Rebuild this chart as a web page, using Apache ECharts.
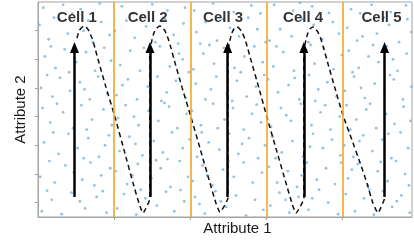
<!DOCTYPE html>
<html>
<head>
<meta charset="utf-8">
<script src="https://cdn.jsdelivr.net/npm/echarts@6/dist/echarts.min.js"></script>
<style>
  html, body { margin: 0; padding: 0; background: #fff; }
  #chart { width: 414px; height: 241px; }
</style>
</head>
<body>
<div id="chart"></div>
<script>
// cell boundaries (orange lines) on Attribute 1
const cellBounds = [1, 2, 3, 4];
const cellNames = ['Cell 1', 'Cell 2', 'Cell 3', 'Cell 4', 'Cell 5'];
const cellLabelX = [0.51, 1.44, 2.43, 3.48, 4.51];
const cellLabelY = 6.44;

// upward arrows: x position, start and end on Attribute 2
const arrowX = [0.479, 1.47, 2.49, 3.49, 4.55];
const arrowFrom = 0.2;
const arrowTo = 5.41;

// dashed trajectory
const curvePts = [
  [0.512, 5.74], [0.538, 5.99], [0.564, 6.08], [0.604, 6.16], [0.630, 6.13], [0.669, 5.99],
  [0.709, 5.74], [0.748, 5.40], [0.787, 5.01], [0.892, 4.03], [1.010, 2.99], [1.129, 1.84],
  [1.247, 0.69], [1.325, -0.01], [1.378, -0.36], [1.470, 0.16],
  [1.470, 5.26], [1.496, 5.67], [1.522, 5.92], [1.555, 6.08], [1.601, 6.16], [1.627, 6.13],
  [1.667, 5.99], [1.706, 5.74], [1.745, 5.40], [1.785, 5.01], [1.890, 4.03], [2.008, 2.99],
  [2.133, 1.84], [2.257, 0.69], [2.336, -0.01], [2.388, -0.33], [2.493, 0.16],
  [2.493, 5.26], [2.520, 5.67], [2.546, 5.92], [2.572, 6.06], [2.612, 6.13], [2.638, 6.09],
  [2.677, 5.95], [2.717, 5.71], [2.756, 5.36], [2.795, 4.98], [2.900, 4.00], [3.005, 2.99],
  [3.130, 1.84], [3.255, 0.69], [3.333, -0.01], [3.386, -0.36], [3.491, 0.16],
  [3.491, 5.26], [3.517, 5.67], [3.543, 5.92], [3.570, 6.06], [3.609, 6.13], [3.635, 6.09],
  [3.675, 5.95], [3.714, 5.71], [3.753, 5.36], [3.793, 4.98], [3.898, 4.00], [4.003, 3.06],
  [4.121, 2.19], [4.226, 1.41], [4.318, 0.69], [4.396, -0.01], [4.462, -0.36], [4.554, 0.16]
];

// background samples
const samples = [
  [0.05,-0.3],[0.18,0.1],[0.31,-0.4],[0.44,0.35],[0.62,-0.2],[0.77,0.2],[0.9,-0.35],[0.12,0.42],[0.55,0.05],[0.85,0.4],
  [0.03,0.9],[0.22,0.7],[0.36,1.3],[0.58,0.8],[0.69,1.4],[0.83,0.95],[0.95,1.2],[0.15,1.45],[0.47,1.05],[0.74,0.6],
  [0.08,2.1],[0.27,1.7],[0.4,2.4],[0.52,1.9],[0.66,2.25],[0.8,1.6],[0.93,2.35],[0.2,2.45],[0.6,1.55],[0.88,2.0],
  [0.06,3.3],[0.16,2.8],[0.33,3.15],[0.46,2.6],[0.57,3.4],[0.71,2.9],[0.86,3.25],[0.97,2.7],[0.25,3.45],[0.64,2.55],
  [0.04,4.0],[0.19,3.7],[0.29,4.35],[0.42,3.9],[0.55,4.2],[0.68,3.6],[0.79,4.4],[0.91,3.8],[0.12,4.45],[0.61,3.95],
  [0.09,5.1],[0.23,4.7],[0.35,5.35],[0.5,4.9],[0.63,5.25],[0.75,4.6],[0.87,5.4],[0.96,4.95],[0.17,5.45],[0.41,4.55],
  [0.02,6.2],[0.14,5.7],[0.28,6.4],[0.39,5.9],[0.6,6.0],[0.72,5.6],[0.83,6.3],[0.94,5.85],[0.21,6.45],[0.66,6.35],
  [0.07,6.8],[0.33,6.9],[0.56,6.75],[0.81,6.95],[0.45,6.6],
  [1.04,-0.2],[1.13,0.3],[1.29,-0.42],[1.41,0.15],[1.56,-0.1],[1.68,0.38],[1.79,-0.3],[1.92,0.05],[1.35,0.45],[1.87,0.44],
  [1.02,1.1],[1.17,0.65],[1.31,1.35],[1.49,0.85],[1.61,1.2],[1.74,0.55],[1.86,1.45],[1.97,0.9],[1.24,0.95],[1.55,1.48],
  [1.07,1.8],[1.2,2.3],[1.37,1.65],[1.52,2.15],[1.64,1.75],[1.76,2.45],[1.9,1.9],[1.99,2.2],[1.28,2.05],[1.7,1.52],
  [1.05,2.95],[1.15,3.4],[1.32,2.7],[1.45,3.2],[1.58,2.85],[1.72,3.35],[1.83,2.6],[1.95,3.1],[1.26,3.0],[1.66,3.48],
  [1.03,3.75],[1.18,4.3],[1.3,3.6],[1.44,4.05],[1.57,4.4],[1.69,3.85],[1.81,4.25],[1.94,3.65],[1.11,4.1],[1.62,3.55],
  [1.08,4.8],[1.21,5.3],[1.34,4.6],[1.47,5.05],[1.6,5.45],[1.73,4.75],[1.85,5.2],[1.98,4.55],[1.39,5.4],[1.9,5.0],
  [1.01,6.0],[1.16,6.35],[1.27,5.75],[1.42,6.15],[1.54,5.6],[1.67,6.4],[1.78,5.85],[1.91,6.25],[1.36,6.5],[1.84,5.55],
  [1.1,6.85],[1.25,6.6],[1.5,6.92],[1.7,6.7],[1.93,6.8],
  [2.06,0.2],[2.19,-0.38],[2.33,0.4],[2.47,-0.15],[2.6,0.25],[2.73,-0.45],[2.85,0.1],[2.96,-0.25],[2.4,0.05],[2.12,-0.05],
  [2.03,0.75],[2.16,1.3],[2.29,0.6],[2.43,1.15],[2.57,0.9],[2.7,1.4],[2.82,0.7],[2.94,1.05],[2.5,1.45],[2.22,0.95],
  [2.09,1.6],[2.24,2.1],[2.38,1.85],[2.51,2.4],[2.63,1.7],[2.77,2.25],[2.89,1.55],[2.98,2.0],[2.15,2.45],[2.68,2.05],
  [2.02,3.2],[2.14,2.7],[2.3,3.45],[2.45,2.9],[2.56,3.3],[2.7,2.55],[2.81,3.1],[2.93,2.8],[2.36,2.6],[2.87,3.42],
  [2.07,4.15],[2.2,3.6],[2.34,4.4],[2.48,3.8],[2.61,4.25],[2.74,3.7],[2.86,4.05],[2.97,4.45],[2.27,3.95],[2.55,3.55],
  [2.04,4.65],[2.17,5.2],[2.31,4.85],[2.44,5.4],[2.58,4.7],[2.71,5.1],[2.84,5.45],[2.95,4.9],[2.25,5.5],[2.66,4.55],
  [2.08,5.95],[2.2,6.3],[2.35,5.65],[2.52,6.1],[2.64,5.8],[2.76,6.45],[2.88,6.05],[2.99,5.6],[2.43,6.4],[2.13,5.55],
  [2.05,6.7],[2.3,6.95],[2.57,6.65],[2.8,6.88],[2.92,6.6],
  [3.05,-0.1],[3.17,0.35],[3.3,-0.35],[3.42,0.2],[3.55,-0.25],[3.69,0.45],[3.81,0.0],[3.94,-0.4],[3.6,0.15],[3.25,0.1],
  [3.03,1.25],[3.14,0.7],[3.28,1.1],[3.4,0.55],[3.53,1.4],[3.66,0.8],[3.78,1.2],[3.9,0.65],[3.46,0.95],[3.98,1.4],
  [3.08,2.3],[3.2,1.75],[3.34,2.15],[3.48,1.6],[3.61,2.4],[3.74,1.9],[3.86,2.2],[3.97,1.65],[3.12,1.55],[3.57,1.95],
  [3.06,2.65],[3.19,3.3],[3.32,2.85],[3.45,3.45],[3.59,2.7],[3.71,3.15],[3.84,2.55],[3.96,3.0],[3.26,3.05],[3.77,3.4],
  [3.02,4.3],[3.15,3.85],[3.29,4.1],[3.43,3.6],[3.56,4.45],[3.68,3.95],[3.8,4.2],[3.92,3.7],[3.37,4.35],[3.64,3.55],
  [3.09,4.75],[3.22,5.25],[3.36,4.6],[3.5,5.05],[3.63,4.85],[3.75,5.4],[3.88,4.65],[3.99,5.15],[3.13,5.45],[3.58,5.5],
  [3.04,5.65],[3.18,6.05],[3.33,5.8],[3.47,6.4],[3.62,6.2],[3.73,5.7],[3.87,6.3],[3.95,5.9],[3.24,6.45],[3.55,5.6],
  [3.1,6.9],[3.35,6.7],[3.6,6.85],[3.82,6.62],[3.44,6.97],
  [4.04,0.3],[4.16,-0.3],[4.28,0.15],[4.41,-0.42],[4.53,0.4],[4.65,-0.15],[4.77,0.25],[4.88,-0.35],[4.35,0.45],[4.71,0.05],
  [4.07,0.85],[4.2,1.35],[4.33,0.6],[4.46,1.1],[4.59,0.75],[4.7,1.45],[4.82,1.0],[4.12,1.15],[4.5,1.42],[4.87,0.6],
  [4.02,2.0],[4.14,1.6],[4.27,2.35],[4.39,1.8],[4.52,2.2],[4.64,1.55],[4.76,2.45],[4.86,1.9],[4.22,2.15],[4.6,2.4],
  [4.05,3.4],[4.18,2.9],[4.31,3.25],[4.44,2.6],[4.57,3.1],[4.68,2.75],[4.8,3.35],[4.89,2.85],[4.36,3.45],[4.1,2.55],
  [4.03,3.9],[4.15,4.4],[4.29,3.65],[4.42,4.15],[4.55,3.8],[4.67,4.3],[4.79,3.6],[4.9,4.05],[4.24,4.0],[4.62,4.45],
  [4.08,5.3],[4.21,4.7],[4.34,5.1],[4.47,4.9],[4.58,5.45],[4.72,4.6],[4.84,5.2],[4.13,4.55],[4.4,5.5],[4.66,5.0],
  [4.06,6.1],[4.19,5.65],[4.32,6.35],[4.45,5.9],[4.61,6.2],[4.74,5.6],[4.85,6.4],[4.26,5.8],[4.54,6.45],[4.9,5.95],
  [4.11,6.75],[4.38,6.9],[4.63,6.65],[4.83,6.88],[4.23,6.6]
];

const yTicks = [0, 1, 2, 3, 4, 5, 6];

const axisGray = '#a3a3a3';
const font = "'Liberation Sans', Arial, sans-serif";

const chart = echarts.init(document.getElementById('chart'));

const option = {
  animation: false,
  grid: {
    left: 38, right: 2, top: 2, bottom: 24,
    show: true, borderColor: axisGray, borderWidth: 1
  },
  xAxis: {
    type: 'value',
    min: 0,
    max: 4.91,
    splitLine: { show: false },
    axisLine: { show: true, onZero: false, lineStyle: { color: axisGray, width: 1 } },
    axisTick: { show: true, length: 3, customValues: cellBounds, lineStyle: { color: axisGray } },
    axisLabel: { show: false },
    name: 'Attribute 1',
    nameLocation: 'middle',
    nameGap: 4,
    nameTextStyle: { fontFamily: font, fontSize: 15, color: '#1a1a1a', padding: [0, 0, 0, 25] }
  },
  yAxis: {
    type: 'value',
    min: -0.5,
    max: 7,
    splitLine: { show: false },
    axisLine: { show: true, onZero: false, lineStyle: { color: axisGray, width: 1 } },
    axisTick: { show: true, length: 3, customValues: yTicks, lineStyle: { color: axisGray } },
    axisLabel: { show: false },
    name: 'Attribute 2',
    nameLocation: 'middle',
    nameGap: 10,
    nameTextStyle: { fontFamily: font, fontSize: 15, color: '#1a1a1a' }
  },
  series: [
    {
      // scattered samples
      type: 'scatter',
      data: samples,
      symbolSize: 2.8,
      itemStyle: { color: '#7db1d8' },
      z: 1,
      silent: true
    },
    {
      // orange cell boundaries
      type: 'line',
      data: [],
      z: 2,
      markLine: {
        silent: true,
        symbol: 'none',
        label: { show: false },
        lineStyle: { color: '#f5a524', width: 1.6, type: 'solid' },
        data: cellBounds.map(v => ({ xAxis: v }))
      }
    },
    {
      // dashed trajectory
      type: 'line',
      data: curvePts,
      smooth: 0.15,
      showSymbol: false,
      lineStyle: { color: '#111', width: 1.5, type: [5, 3.5] },
      z: 3,
      silent: true
    },
    {
      // black arrows
      type: 'line',
      data: [],
      z: 4,
      markLine: {
        silent: true,
        symbol: ['none', 'triangle'],
        symbolSize: [9, 11],
        label: { show: false },
        lineStyle: { color: '#000', width: 2.5, type: 'solid' },
        data: arrowX.map(x => [{ coord: [x, arrowFrom] }, { coord: [x, arrowTo] }])
      }
    },
    {
      // cell labels
      type: 'scatter',
      symbolSize: 0,
      z: 5,
      silent: true,
      data: cellLabelX.map((x, i) => ({ value: [x, cellLabelY], name: cellNames[i] })),
      label: {
        show: true,
        position: 'inside',
        formatter: '{b}',
        fontFamily: font,
        fontSize: 15,
        fontWeight: 'bold',
        color: '#000'
      }
    }
  ]
};

chart.setOption(option);
</script>
</body>
</html>
